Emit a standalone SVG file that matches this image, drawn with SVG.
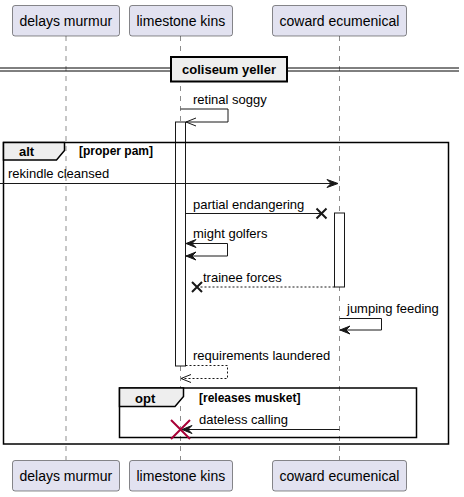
<svg xmlns="http://www.w3.org/2000/svg" width="464" height="497" viewBox="0 0 464 497">
<style>
.part{fill:#E2E2F0;stroke:#181818;stroke-width:0.5}
.pt{font-family:"Liberation Sans",Arial,sans-serif;font-size:14px;fill:#000}
.life{stroke:#181818;stroke-width:0.5;stroke-dasharray:5,5;fill:none}
.act{fill:#FFFFFF;stroke:#181818;stroke-width:1}
.msg{stroke:#181818;stroke-width:1;fill:none}
.dash{stroke:#181818;stroke-width:1;fill:none;stroke-dasharray:2,2}
.head{fill:#181818;stroke:#181818;stroke-width:1}
.open{stroke:#181818;stroke-width:1;fill:none}
.xm{stroke:#181818;stroke-width:2;fill:none}
.xr{stroke:#A80036;stroke-width:2;fill:none}
.mt{font-family:"Liberation Sans",Arial,sans-serif;font-size:13px;fill:#000}
.frame{fill:none;stroke:#000;stroke-width:1.5}
.tab{fill:#EEEEEE;stroke:#000;stroke-width:1.5}
.ft{font-family:"Liberation Sans",Arial,sans-serif;font-size:13px;font-weight:bold;fill:#000}
.gt{font-family:"Liberation Sans",Arial,sans-serif;font-size:12px;font-weight:bold;fill:#000}
</style>
<g id="lifelines">
<line class="life" x1="66" y1="36" x2="66" y2="460"/>
<line class="life" x1="180.5" y1="36" x2="180.5" y2="460"/>
<line class="life" x1="339.5" y1="36" x2="339.5" y2="460"/>
</g>
<g id="p-delays-top"><rect class="part" x="12.5" y="5.5" width="107" height="30.5" rx="2.5"/><text class="pt" x="19.5" y="26">delays murmur</text></g>
<g id="p-limestone-top"><rect class="part" x="129.5" y="5.5" width="103" height="30.5" rx="2.5"/><text class="pt" x="136.5" y="26">limestone kins</text></g>
<g id="p-coward-top"><rect class="part" x="272.5" y="5.5" width="134" height="30.5" rx="2.5"/><text class="pt" x="279.5" y="26">coward ecumenical</text></g>
<g id="p-delays-bottom"><rect class="part" x="12.5" y="460.5" width="107" height="30.5" rx="2.5"/><text class="pt" x="19.5" y="481">delays murmur</text></g>
<g id="p-limestone-bottom"><rect class="part" x="129.5" y="460.5" width="103" height="30.5" rx="2.5"/><text class="pt" x="136.5" y="481">limestone kins</text></g>
<g id="p-coward-bottom"><rect class="part" x="272.5" y="460.5" width="134" height="30.5" rx="2.5"/><text class="pt" x="279.5" y="481">coward ecumenical</text></g>
<g id="divider">
<line x1="0" y1="68" x2="459" y2="68" stroke="#000" stroke-width="1"/>
<line x1="0" y1="71" x2="459" y2="71" stroke="#000" stroke-width="1"/>
<rect x="171" y="57" width="116" height="24.5" fill="#EEEEEE" stroke="#000" stroke-width="2"/>
<text class="ft" x="229" y="74" text-anchor="middle">coliseum yeller</text>
</g>
<g id="activations">
<rect class="act" x="175.5" y="122" width="10" height="244"/>
<rect class="act" x="334.5" y="213" width="10" height="74"/>
</g>
<g id="alt-frame">
<rect class="frame" x="3.5" y="142.5" width="445" height="301.5"/>
<path class="tab" d="M3.5,142.5 H64.5 V150.5 L56.5,160 H3.5 Z"/>
<text class="ft" x="19" y="155.5">alt</text>
<text class="gt" x="79" y="155">[proper pam]</text>
</g>
<g id="opt-frame">
<rect class="frame" x="119.5" y="388" width="297" height="49.5"/>
<path class="tab" d="M119.5,388 H183.5 V396.5 L175,406.5 H119.5 Z"/>
<text class="ft" x="135" y="403">opt</text>
<text class="gt" x="199" y="402">[releases musket]</text>
</g>
<g id="connectors">
<g id="m-retinal">
<polyline class="msg" points="180.5,109 228,109 228,122 186,122"/>
<polyline class="open" points="196,118 186,122 196,126"/>
<text class="mt" x="193" y="104">retinal soggy</text>
</g>
<g id="m-rekindle">
<line class="msg" x1="0" y1="183.5" x2="337" y2="183.5"/>
<polygon class="head" points="327,179.5 338,183.5 327,187.5 331,183.5"/>
<text class="mt" x="8" y="178">rekindle cleansed</text>
</g>
<g id="m-partial">
<line class="msg" x1="185.5" y1="213.5" x2="321.5" y2="213.5"/>
<path class="xm" d="M316.5,208.5 L326.5,218.5 M326.5,208.5 L316.5,218.5"/>
<text class="mt" x="193" y="209">partial endangering</text>
</g>
<g id="m-might">
<polyline class="msg" points="186,243.5 227.5,243.5 227.5,256 186,256"/>
<polygon class="head" points="196,239.5 186,243.5 196,247.5 192,243.5"/>
<polygon class="head" points="196,252 186,256 196,260 192,256"/>
<text class="mt" x="193" y="238">might golfers</text>
</g>
<g id="m-trainee">
<line class="dash" x1="334.5" y1="287" x2="197" y2="287"/>
<path class="xm" d="M192,282 L202,292 M202,282 L192,292"/>
<text class="mt" x="203" y="281.5">trainee forces</text>
</g>
<g id="m-jumping">
<polyline class="msg" points="339.5,318.5 381.5,318.5 381.5,330 340,330"/>
<polygon class="head" points="350,326 340,330 350,334 346,330"/>
<text class="mt" x="347" y="313">jumping feeding</text>
</g>
<g id="m-requirements">
<polyline class="dash" points="185.5,365.5 227.5,365.5 227.5,378.5 181,378.5"/>
<polyline class="open" points="191,374.5 181,378.5 191,382.5"/>
<text class="mt" x="193" y="360">requirements laundered</text>
</g>
<g id="m-dateless">
<line class="msg" x1="339.5" y1="429.5" x2="182" y2="429.5"/>
<polygon class="head" points="192,425.5 182,429.5 192,433.5 188,429.5"/>
<path class="xr" d="M171,420 L190,439 M190,420 L171,439"/>
<text class="mt" x="199" y="424">dateless calling</text>
</g>
</g>
</svg>
